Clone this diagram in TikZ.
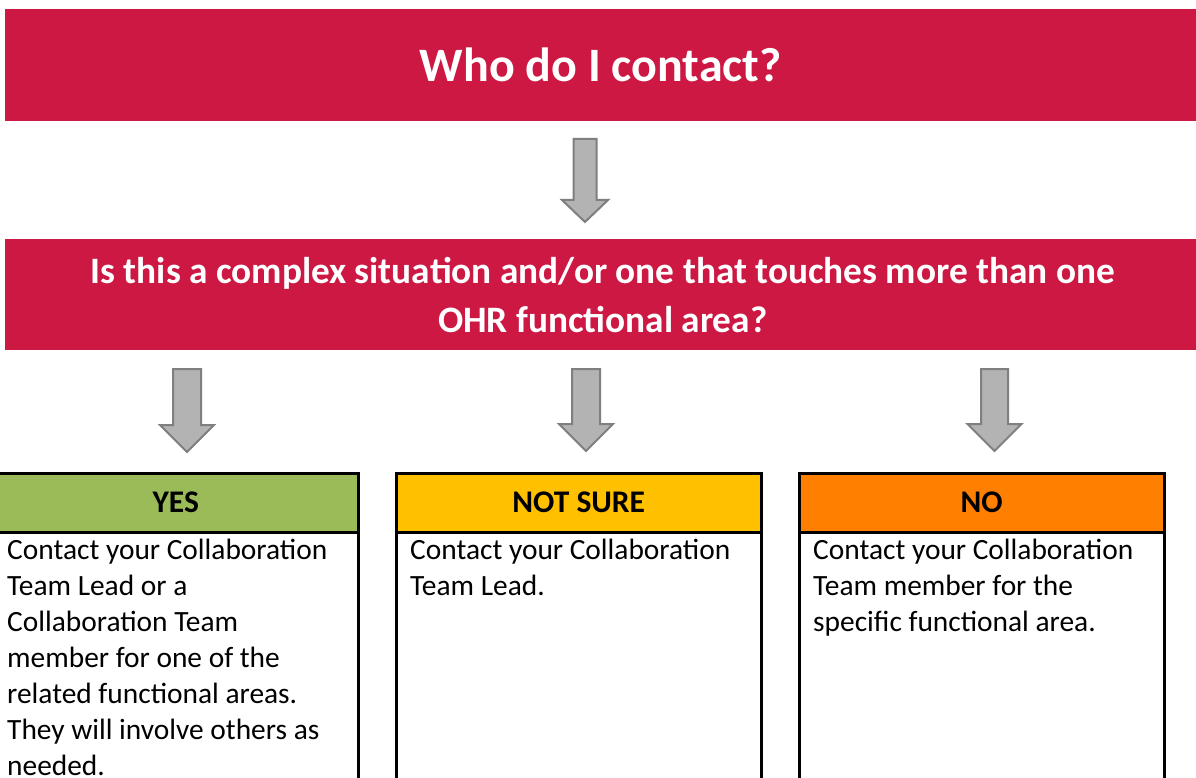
\documentclass[tikz,border=0pt]{standalone}
\usepackage{fontspec}
\setmainfont{Carlito}
\definecolor{ohrred}{HTML}{CC1843}
\definecolor{yesgreen}{HTML}{9BBB59}
\definecolor{sureyellow}{HTML}{FFC000}
\definecolor{noorange}{HTML}{FF8000}
\definecolor{arrowfill}{HTML}{B3B3B3}
\definecolor{arrowline}{HTML}{7F7F7F}
\tikzset{
  redbox/.style={fill=ohrred, draw=none, inner sep=0pt, text=white, align=center, anchor=north west},
  headbox/.style={draw=black, line width=2.5pt, inner sep=0pt, minimum width=365pt, minimum height=59pt, anchor=north west, font=\fontsize{31.5}{36}\selectfont\bfseries},
  bodybox/.style={draw=black, line width=2.5pt, inner sep=0pt, minimum width=365pt, minimum height=280pt, anchor=north west},
  bodytext/.style={inner sep=0pt, anchor=north west, align=left, font=\fontsize{29.4}{36}\selectfont},
  blockarrow/.style={fill=arrowfill, draw=arrowline, line width=2pt, line join=miter},
}
% #1 top-centre coordinate, #2 half shaft, #3 half head, #4 shaft length, #5 head length
\newcommand{\downblock}[5]{%
  \draw[blockarrow] (#1) ++(-#2,0) -- ++(0,#4) -- ++(-#3+#2,0) -- ++(#3,#5) -- ++(#3,-#5) -- ++(-#3+#2,0) -- ++(0,-#4) -- cycle;}
\begin{document}
\begin{tikzpicture}[x=1pt,y=-1pt]
\useasboundingbox (0,0) rectangle (1196,778);
\fill[white] (0,0) rectangle (1196,778);

\node[redbox, minimum width=1191pt, minimum height=112pt, font=\fontsize{48}{56}\selectfont\bfseries] (title) at (5,9)
  {Who do I contact?};
\node[redbox, minimum width=1195pt, minimum height=111pt, font=\fontsize{37.3}{49}\selectfont\bfseries] (question) at (5,239)
  {Is this a complex situation and/or one that touches more than one\\OHR functional area?};

% column boxes
\node[bodybox] (yesbody) at (-8,531) {};
\node[headbox, fill=yesgreen] (yeshead) at (-8,472) {YES};
\node[bodybox] (surebody) at (395,531) {};
\node[headbox, fill=sureyellow] (surehead) at (395,472) {NOT SURE};
\node[bodybox] (nobody) at (798,531) {};
\node[headbox, fill=noorange] (nohead) at (798,472) {NO};

\node[bodytext] (yestext) at (7,539) {Contact your Collaboration\\Team Lead or a\\Collaboration Team\\member for one of the\\related functional areas.\\They will involve others as\\needed.};
\node[bodytext] (suretext) at (410,539) {Contact your Collaboration\\Team Lead.};
\node[bodytext] (notext) at (813,539) {Contact your Collaboration\\Team member for the\\specific functional area.};

% block arrows
\coordinate (a0) at (585,139);
\coordinate (a1) at (187,369);
\coordinate (a2) at (586,369);
\coordinate (a3) at (994.5,369);
\downblock{a0}{11.5}{23}{61}{22}
\downblock{a1}{14}{27}{56}{27}
\downblock{a2}{14}{27}{55}{27}
\downblock{a3}{13.5}{27}{55}{27}
\end{tikzpicture}
\end{document}
